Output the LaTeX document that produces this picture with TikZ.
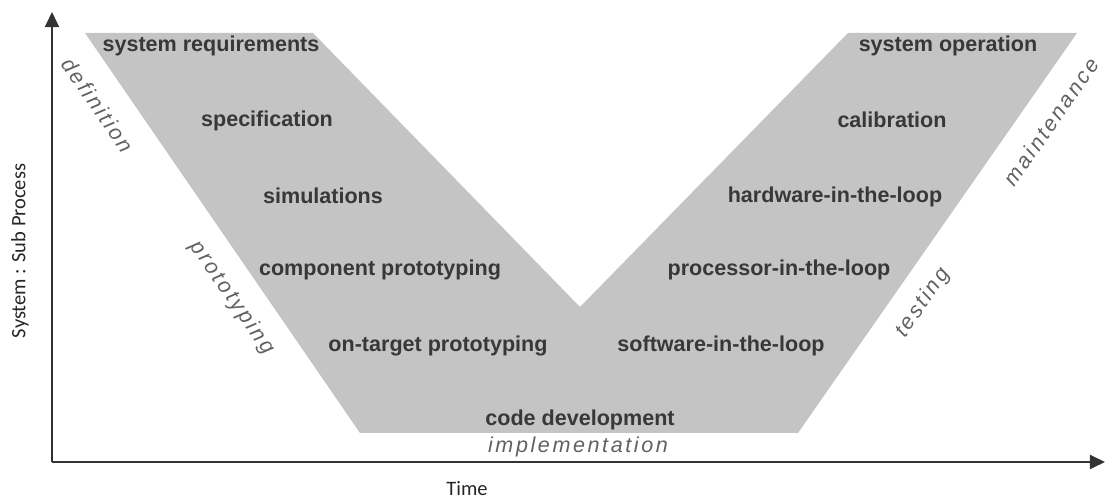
\documentclass[tikz,border=0pt]{standalone}
\usepackage{fontspec}
\usetikzlibrary{arrows.meta}
\newfontfamily\vsans{Liberation Sans}
\newfontfamily\vphase{Liberation Sans}[LetterSpace=12]
\newfontfamily\vaxis{Carlito}
\definecolor{vgray}{RGB}{196,196,196}
\begin{document}
\begin{tikzpicture}[x=0.03cm, y=0.03cm, line join=round, >={Triangle[length=13pt,width=12pt]},
  task/.style={font=\vsans\bfseries\fontsize{18.4}{22}\selectfont, text=black!78, inner sep=0pt},
  phase/.style={font=\vphase\itshape\fontsize{18.4}{22}\selectfont, text=black!62, inner sep=0pt},
  axislabel/.style={font=\vaxis\fontsize{17.5}{21}\selectfont, text=black!85, inner sep=0pt}]
\useasboundingbox (0,0) rectangle (1106,500);
% the V
\fill[vgray] (85,467) -- (313,467) -- (580,193) -- (848,467) -- (1077,467) -- (798,67) -- (360,67) -- cycle;
% axes
\coordinate (O) at (52,38);
\coordinate (xend) at (1105,38);
\coordinate (yend) at (52,488);
\draw[->, line width=2.2pt, black!80] (O) -- (xend);
\draw[->, line width=2.2pt, black!80] (O) -- (yend);
\node[axislabel] (time) at (467,11) {Time};
\node[axislabel, rotate=90] (sub) at (20,249) {System : Sub Process};
% left arm
\node[task] (sysreq) at (211,454) {system requirements};
\node[task] (spec) at (267,379) {specification};
\node[task] (sim) at (323,304) {simulations};
\node[task] (comp) at (380,230) {component prototyping};
\node[task] (target) at (438,154) {on-target prototyping};
\node[task] (code) at (580,80) {code development};
% right arm
\node[task] (sysop) at (948,454) {system operation};
\node[task] (calib) at (892,380) {calibration};
\node[task] (hil) at (835,303) {hardware-in-the-loop};
\node[task] (pil) at (779,230) {processor-in-the-loop};
\node[task] (sil) at (721,154) {software-in-the-loop};
% phases
\node[phase] (impl) at (578,53) {implementation};
\node[phase, rotate=-55.5] (def) at (98,395) {definition};
\node[phase, rotate=-55.5] (proto) at (232,202) {prototyping};
\node[phase, rotate=55.3] (maint) at (1051,378) {maintenance};
\node[phase, rotate=55.3] (test) at (923,197) {testing};
\end{tikzpicture}
\end{document}
